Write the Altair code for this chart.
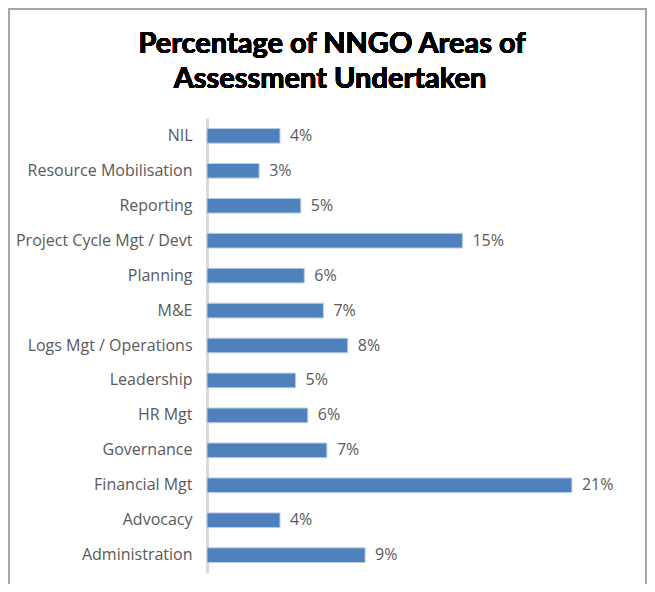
import altair as alt
import pandas as pd

categories = [
    "NIL", "Resource Mobilisation", "Reporting", "Project Cycle Mgt / Devt",
    "Planning", "M&E", "Logs Mgt / Operations", "Leadership", "HR Mgt",
    "Governance", "Financial Mgt", "Advocacy", "Administration",
]
values = [0.042, 0.030, 0.054, 0.147, 0.056, 0.067, 0.081, 0.051, 0.058,
          0.069, 0.210, 0.042, 0.091]
title_lines = ["Percentage of NNGO Areas of", "Assessment Undertaken"]

df = pd.DataFrame({"area": categories, "pct": values})

FONT = "Open Sans"
TFONT = "Lato"
GRAY = "#595959"

y_enc = alt.Y("area:N", sort=categories, title=None,
              scale=alt.Scale(paddingInner=0.58, paddingOuter=0.3),
              axis=alt.Axis(ticks=False, labelPadding=15, labelFontSize=16,
                            labelColor=GRAY, labelFont=FONT, labelLimit=400,
                            domainColor="#d9d9d9", domainWidth=3, grid=False))
x_enc = alt.X("pct:Q", scale=alt.Scale(domain=[0, 0.24], nice=False), axis=None)

bars = alt.Chart(df).mark_bar(color="#4f81bd", stroke="#b9cde5", strokeWidth=1).encode(
    x=x_enc, y=y_enc)

labels = alt.Chart(df).mark_text(align="left", baseline="middle", dx=10,
                                 fontSize=16, font=FONT, color=GRAY).encode(
    x=x_enc, y=y_enc, text=alt.Text("pct:Q", format=".0%"))

frame = alt.Chart(df).mark_rect(fill=None, stroke="#a6a6a6", strokeWidth=2).encode(
    x=alt.value(-198), x2=alt.value(439), y=alt.value(-109), y2=alt.value(600))

title1 = alt.Chart(df).mark_text(align="center", baseline="alphabetic", fontSize=29,
                                 font=TFONT, fontWeight="bold", color="black").encode(
    x=alt.value(125), y=alt.value(-65), text=alt.value(title_lines[0]))
title2 = alt.Chart(df).mark_text(align="center", baseline="alphabetic", fontSize=29,
                                 font=TFONT, fontWeight="bold", color="black").encode(
    x=alt.value(123), y=alt.value(-30), text=alt.value(title_lines[1]))

chart = alt.layer(frame, bars, labels, title1, title2).properties(
    width=417, height=455,
    autosize=alt.AutoSizeParams(type="none"),
    padding={"left": 199, "top": 110, "right": 23, "bottom": 11},
).configure_view(stroke=None)

chart.save("out.html", embed_options={"renderer": "svg", "actions": False})
